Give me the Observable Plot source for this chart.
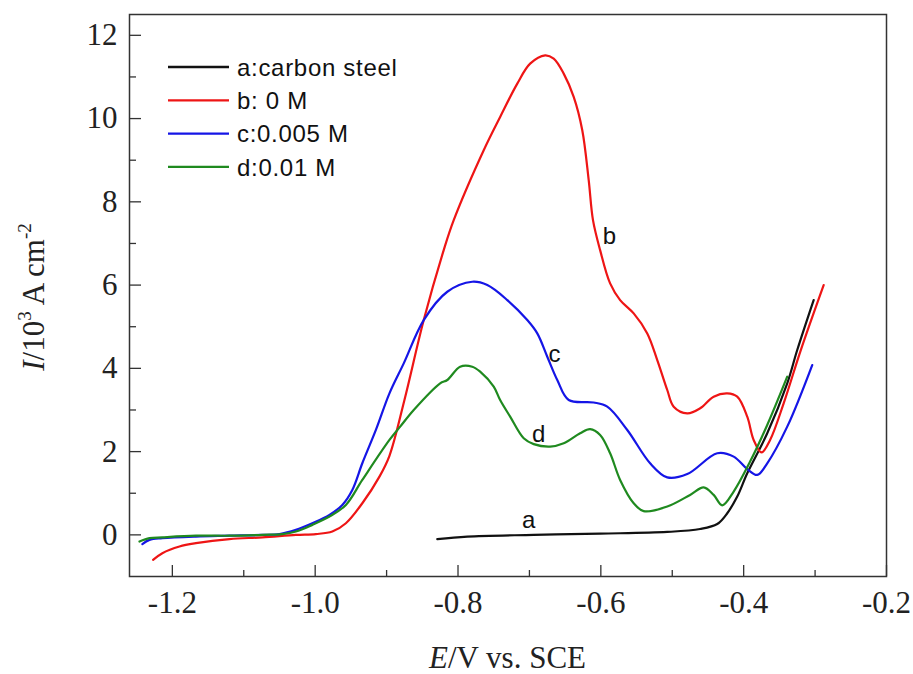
<!DOCTYPE html>
<html><head><meta charset="utf-8">
<script src="https://cdn.jsdelivr.net/npm/d3@7"></script>
<script src="https://cdn.jsdelivr.net/npm/@observablehq/plot@0.6"></script>
<style>body{margin:0;background:#fff}</style>
</head><body><div id="chart"></div>
<script>
const seriesNames = ["a:carbon steel", "b: 0 M", "c:0.005 M", "d:0.01 M"];
const seriesColors = ["#111111", "#ee1515", "#1515e6", "#1f8a1f"];
const curveLetters = ["a", "b", "c", "d"];

const aE = [-0.829,-0.787,-0.694,-0.601,-0.507,-0.461,-0.437,-0.423,-0.409,-0.395,-0.367,-0.339,-0.325,-0.302];
const aI = [-0.10,-0.04,0.00,0.03,0.07,0.14,0.26,0.52,0.92,1.48,2.44,3.64,4.44,5.64];

const bE = [-1.227,-1.214,-1.190,-1.167,-1.120,-1.074,-1.027,-0.999,-0.976,-0.957,-0.934,-0.910,-0.896,-0.875,-0.848,-0.820,-0.806,-0.764,-0.741,-0.717,-0.699,-0.678,-0.666,-0.652,-0.638,-0.626,-0.617,-0.611,-0.601,-0.587,-0.573,-0.554,-0.535,-0.521,-0.507,-0.498,-0.479,-0.461,-0.442,-0.423,-0.409,-0.395,-0.386,-0.375,-0.363,-0.344,-0.320,-0.288];
const bI = [-0.60,-0.44,-0.28,-0.20,-0.10,-0.06,0.00,0.02,0.08,0.28,0.76,1.40,1.90,3.24,5.16,6.84,7.56,9.24,10.04,10.84,11.32,11.52,11.44,11.08,10.52,9.72,8.52,7.56,6.84,6.04,5.64,5.32,4.84,4.20,3.48,3.08,2.92,3.04,3.32,3.40,3.32,2.84,2.28,1.98,2.28,3.16,4.44,6.00];

const cE = [-1.242,-1.232,-1.214,-1.167,-1.120,-1.074,-1.050,-1.027,-1.004,-0.980,-0.962,-0.948,-0.934,-0.915,-0.896,-0.876,-0.848,-0.815,-0.780,-0.759,-0.731,-0.703,-0.689,-0.675,-0.661,-0.645,-0.610,-0.591,-0.563,-0.531,-0.507,-0.479,-0.437,-0.414,-0.395,-0.381,-0.367,-0.339,-0.304];
const cI = [-0.22,-0.12,-0.08,-0.04,-0.02,0.00,0.02,0.12,0.28,0.48,0.72,1.08,1.72,2.52,3.40,4.12,5.16,5.84,6.08,6.00,5.64,5.16,4.84,4.28,3.72,3.24,3.18,3.08,2.52,1.72,1.38,1.46,1.96,1.88,1.58,1.44,1.72,2.60,4.08];

const dE = [-1.246,-1.232,-1.214,-1.167,-1.120,-1.074,-1.046,-1.027,-1.004,-0.980,-0.957,-0.934,-0.896,-0.881,-0.862,-0.825,-0.815,-0.797,-0.780,-0.769,-0.750,-0.741,-0.727,-0.708,-0.694,-0.671,-0.652,-0.629,-0.615,-0.601,-0.587,-0.573,-0.554,-0.540,-0.507,-0.475,-0.456,-0.442,-0.430,-0.414,-0.391,-0.367,-0.339];
const dI = [-0.16,-0.08,-0.06,-0.02,-0.02,0.00,0.02,0.08,0.24,0.44,0.72,1.32,2.28,2.60,3.00,3.64,3.72,4.04,4.04,3.92,3.56,3.24,2.84,2.32,2.18,2.12,2.20,2.44,2.54,2.40,1.96,1.32,0.76,0.57,0.68,0.96,1.14,0.96,0.71,1.04,1.76,2.64,3.80];

const labelE = [-0.701, -0.588, -0.665, -0.687];
const labelI = [0.36, 7.18, 4.34, 2.42];

const xMajor = [-1.2, -1.0, -0.8, -0.6, -0.4, -0.2];
const xMinor = [-1.1, -0.9, -0.7, -0.5, -0.3];
const yMajor = [0, 2, 4, 6, 8, 10, 12];
const yMinor = [1, 3, 5, 7, 9, 11];

const allE = [aE, bE, cE, dE], allI = [aI, bI, cI, dI];
const rows = [];
allE.forEach((es, k) => es.forEach((e, i) => rows.push({E: e, I: allI[k][i], s: seriesNames[k]})));
const labels = curveLetters.map((t, i) => ({t, E: labelE[i], I: labelI[i]}));

const serif = "Liberation Serif, Times New Roman, serif";
const sans = "Liberation Sans, Arial, sans-serif";

const plot = Plot.plot({
  width: 913, height: 674,
  marginLeft: 129, marginRight: 27, marginTop: 14, marginBottom: 98,
  style: {fontFamily: serif, color: "#222", background: "#fff"},
  x: {domain: [-1.26, -0.2], axis: null},
  y: {domain: [-1, 12.5], axis: null},
  color: {domain: seriesNames, range: seriesColors},
  marks: [
    Plot.line(rows, {x: "E", y: "I", z: "s", stroke: "s", strokeWidth: 2.2, curve: "catmull-rom"}),
    Plot.text(labels, {x: "E", y: "I", text: "t", fontSize: 24, fontFamily: sans, fill: "#111"}),
    Plot.frame({stroke: "#333", strokeWidth: 1.5}),
    Plot.axisX(xMajor, {tickSize: -11, tickFormat: () => "", label: null, stroke: "#333", strokeWidth: 1.3}),
    Plot.axisX(xMinor, {tickSize: -6, tickFormat: () => "", label: null, stroke: "#333", strokeWidth: 1.3}),
    Plot.axisX(xMajor, {tickSize: 0, tickPadding: 14, tickFormat: d => d.toFixed(1), label: null, fontSize: 31, fontFamily: serif, fill: "#222"}),
    Plot.axisY(yMajor, {tickSize: -12, tickFormat: () => "", label: null, stroke: "#333", strokeWidth: 1.3}),
    Plot.axisY(yMinor, {tickSize: -7, tickFormat: () => "", label: null, stroke: "#333", strokeWidth: 1.3}),
    Plot.axisY(yMajor, {tickSize: 0, tickPadding: 12, tickFormat: d => String(d), label: null, fontSize: 31, fontFamily: serif, fill: "#222"})
  ]
});
document.getElementById("chart").appendChild(plot);

const svg = d3.select(plot);
// legend
const lg = svg.append("g").attr("text-anchor", "start");
seriesNames.forEach((name, i) => {
  const yy = 67 + i * 33.3;
  lg.append("line").attr("x1", 168).attr("x2", 229).attr("y1", yy).attr("y2", yy)
    .attr("stroke", seriesColors[i]).attr("stroke-width", 2.3);
  lg.append("text").attr("x", 237).attr("y", yy).attr("dy", "0.36em").attr("text-anchor", "start")
    .attr("font-family", sans).attr("font-size", 24).attr("letter-spacing", "0.7px").attr("fill", "#111").text(name);
});
// x title
const xt = svg.append("text").attr("x", 507.5).attr("y", 668).attr("text-anchor", "middle")
  .attr("font-family", serif).attr("font-size", 31).attr("fill", "#222");
xt.append("tspan").attr("font-style", "italic").text("E");
xt.append("tspan").text("/V vs. SCE");
// y title
const yt = svg.append("text").attr("transform", "translate(44,297) rotate(-90)").attr("text-anchor", "middle")
  .attr("font-family", serif).attr("font-size", 31).attr("fill", "#222");
yt.append("tspan").attr("font-style", "italic").text("I");
yt.append("tspan").text("/10");
yt.append("tspan").attr("font-size", 19).attr("dy", -13).text("3");
yt.append("tspan").attr("dy", 13).text(" A cm");
yt.append("tspan").attr("font-size", 19).attr("dy", -13).text("-2");
</script>
</body></html>
